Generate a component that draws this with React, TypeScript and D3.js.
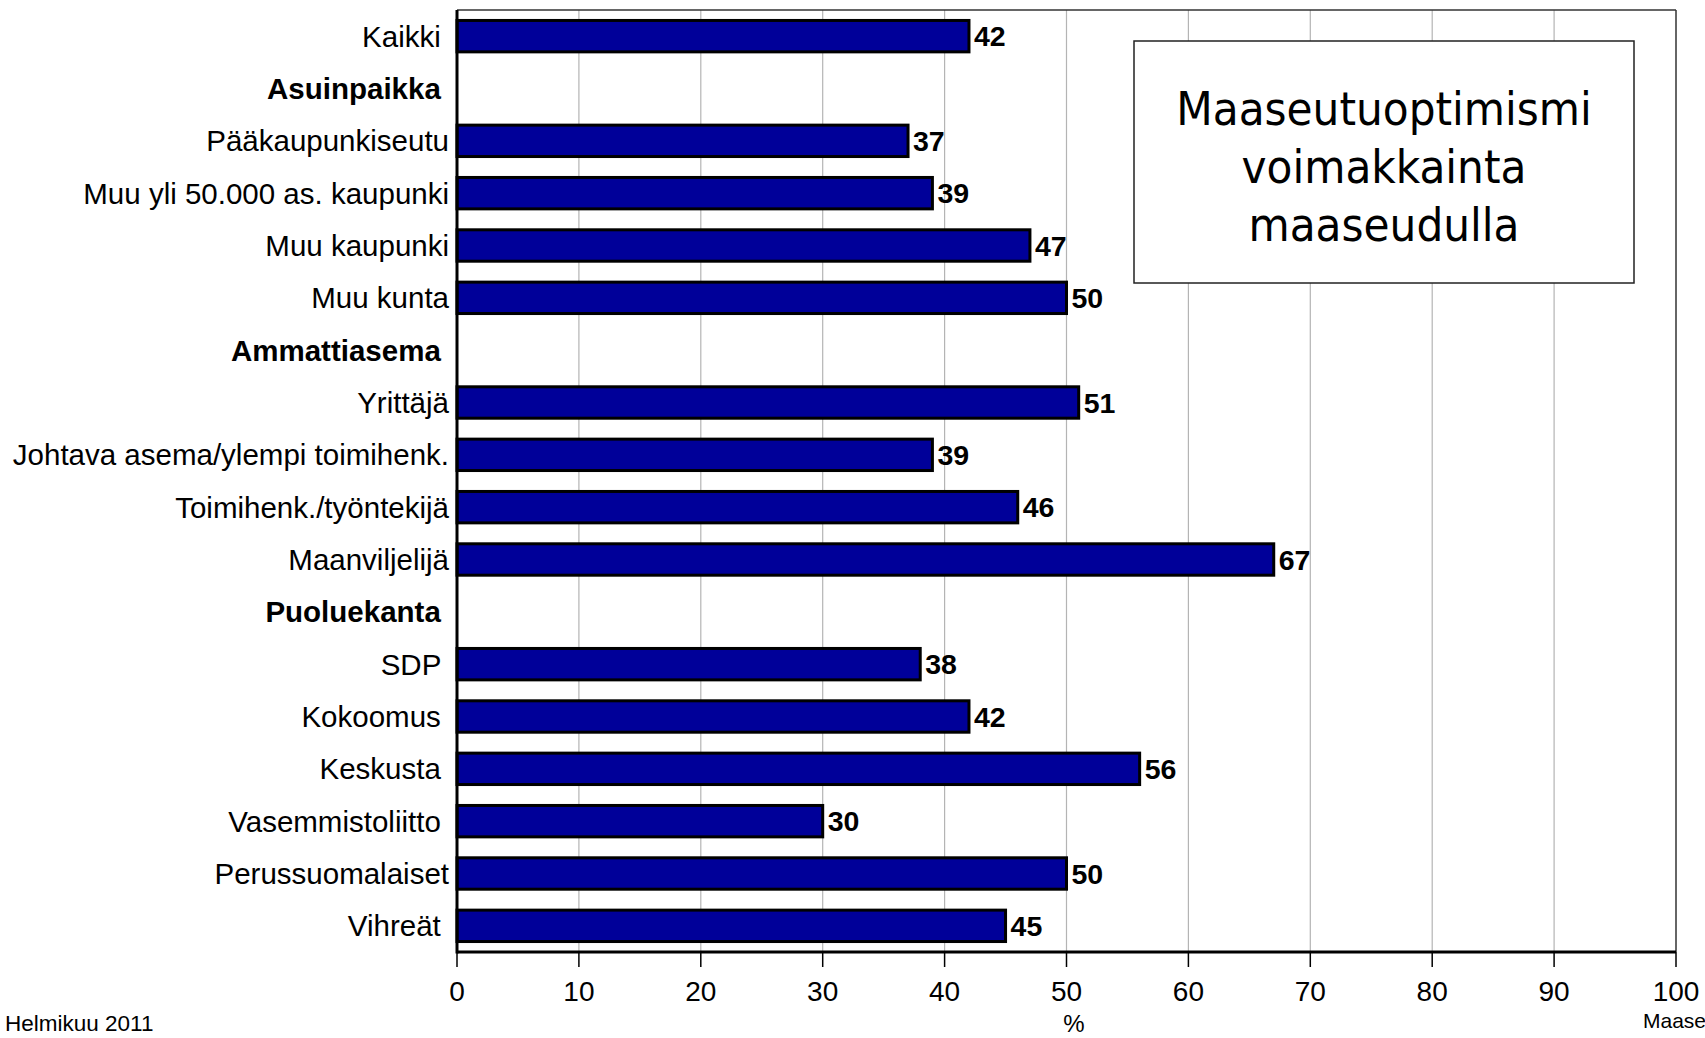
import React from "react";
import * as d3 from "d3";

const categories: string[] = [
  "Kaikki ",
  "Asuinpaikka ",
  "Pääkaupunkiseutu",
  "Muu yli 50.000 as. kaupunki",
  "Muu kaupunki",
  "Muu kunta",
  "Ammattiasema ",
  "Yrittäjä",
  "Johtava asema/ylempi toimihenk.",
  "Toimihenk./työntekijä",
  "Maanviljelijä",
  "Puoluekanta ",
  "SDP ",
  "Kokoomus ",
  "Keskusta ",
  "Vasemmistoliitto ",
  "Perussuomalaiset",
  "Vihreät ",
];

const values: (number | null)[] = [
  42, null, 37, 39, 47, 50, null, 51, 39, 46, 67, null, 38, 42, 56, 30, 50, 45,
];

const xTicks: number[] = [0, 10, 20, 30, 40, 50, 60, 70, 80, 90, 100];

const titleLines: string[] = ["Maaseutuoptimismi", "voimakkainta", "maaseudulla"];
const xAxisTitle = "%";
const footerLeft = "Helmikuu 2011";
const footerRight = "Maase";

const W = 1705;
const H = 1038;
const plot = { left: 457, right: 1676, top: 10, bottom: 952 };

export default function App() {
  const x = d3.scaleLinear().domain([0, 100]).range([plot.left, plot.right]);
  const y = d3
    .scaleBand<number>()
    .domain(d3.range(categories.length))
    .range([plot.top, plot.bottom])
    .paddingInner(0.4)
    .paddingOuter(0.2);
  const step = y.step();
  const font = "'Liberation Sans', Arial, Helvetica, sans-serif";

  return (
    <div style={{ position: "fixed", left: 0, top: 0, width: W, height: H, background: "#fff" }}>
      <svg width={W} height={H} style={{ display: "block" }} fontFamily={font}>
        <rect x={0} y={0} width={W} height={H} fill="#fff" />
        {xTicks
          .filter((t) => t > 0 && t < 100)
          .map((t) => (
            <line key={"g" + t} x1={x(t)} x2={x(t)} y1={plot.top} y2={plot.bottom} stroke="#b4b4b4" strokeWidth={1.2} />
          ))}
        <line x1={plot.left} x2={plot.right} y1={plot.top} y2={plot.top} stroke="#333" strokeWidth={1.5} />
        <line x1={plot.right} x2={plot.right} y1={plot.top} y2={plot.bottom} stroke="#333" strokeWidth={1.5} />

        <rect x={1134} y={41} width={500} height={242} fill="#fff" stroke="#222" strokeWidth={1.5} />
        {titleLines.map((l, i) => (
          <text
            key={"t" + i}
            x={1384}
            y={125 + i * 58}
            textAnchor="middle"
            fontSize={47}
            fontFamily="'DejaVu Sans Condensed', 'DejaVu Sans', sans-serif"
            style={{ fontStretch: "condensed" }}
            fill="#000"
          >
            {l}
          </text>
        ))}

        {values.map((v, i) =>
          v === null ? null : (
            <g key={"b" + i}>
              <rect
                x={x(0)}
                y={y(i)!}
                width={x(v) - x(0)}
                height={y.bandwidth()}
                fill="#000099"
                stroke="#000"
                strokeWidth={3}
              />
              <text x={x(v) + 5} y={y(i)! + y.bandwidth() / 2 + 10} fontSize={28.5} fontWeight="bold" fill="#000">
                {v}
              </text>
            </g>
          )
        )}

        {categories.map((c, i) => (
          <text
            key={"c" + i}
            x={plot.left - 8}
            y={plot.top + step * (i + 0.5) + 10.5}
            textAnchor="end"
            fontSize={29.5}
            fontWeight={values[i] === null ? "bold" : "normal"}
            style={{ whiteSpace: "pre" }}
            fill="#000"
          >
            {c}
          </text>
        ))}

        <line x1={plot.left} x2={plot.left} y1={plot.top} y2={plot.bottom + 1.5} stroke="#000" strokeWidth={3} />
        <line x1={plot.left} x2={plot.right} y1={plot.bottom} y2={plot.bottom} stroke="#000" strokeWidth={3} />
        {xTicks.map((t) => (
          <g key={"x" + t}>
            <line x1={x(t)} x2={x(t)} y1={plot.bottom} y2={plot.bottom + 15} stroke="#000" strokeWidth={1.5} />
            <text x={x(t)} y={1001} textAnchor="middle" fontSize={28} fill="#000">
              {t}
            </text>
          </g>
        ))}
        <text x={1074} y={1032} textAnchor="middle" fontSize={24} fill="#000">
          {xAxisTitle}
        </text>
        <text x={5} y={1031} fontSize={22.5} fill="#000">
          {footerLeft}
        </text>
        <text x={1643} y={1028} fontSize={21} fill="#000">
          {footerRight}
        </text>
      </svg>
    </div>
  );
}
